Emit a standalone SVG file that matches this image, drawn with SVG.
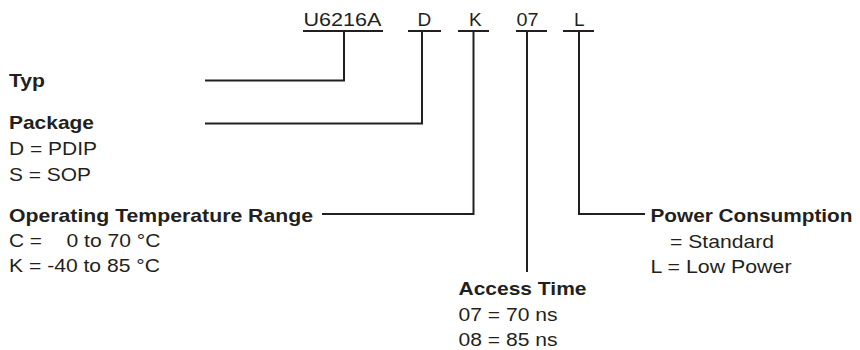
<svg xmlns="http://www.w3.org/2000/svg" width="860" height="350" viewBox="0 0 860 350">
<style>
text{font-family:"Liberation Sans",Arial,Helvetica,sans-serif;font-size:19px;fill:#231f20}
.b{font-weight:bold}
.ln{fill:none;stroke:#231f20;stroke-width:2;stroke-linecap:butt;stroke-linejoin:miter}
</style>
<rect width="860" height="350" fill="#ffffff"/>
<g id="code">
<g id="code-type"><text x="303.5" y="26" textLength="78" lengthAdjust="spacingAndGlyphs">U6216A</text></g>
<g id="code-package"><text x="417.5" y="26">D</text></g>
<g id="code-temp"><text x="469" y="26">K</text></g>
<g id="code-access"><text x="516.5" y="26" textLength="22" lengthAdjust="spacingAndGlyphs">07</text></g>
<g id="code-power"><text x="574" y="26">L</text></g>
</g>
<g id="typ"><text class="b" x="9" y="87" textLength="36" lengthAdjust="spacingAndGlyphs">Typ</text></g>
<g id="package">
<text class="b" x="9" y="129" textLength="85" lengthAdjust="spacingAndGlyphs">Package</text>
<text x="9" y="155" textLength="88" lengthAdjust="spacingAndGlyphs">D = PDIP</text>
<text x="9" y="181" textLength="82" lengthAdjust="spacingAndGlyphs">S = SOP</text>
</g>
<g id="temperature">
<text class="b" x="9" y="221.5" textLength="304" lengthAdjust="spacingAndGlyphs">Operating Temperature Range</text>
<text x="9" y="247" textLength="33" lengthAdjust="spacingAndGlyphs">C =</text>
<text x="66.5" y="247" textLength="94" lengthAdjust="spacingAndGlyphs">0 to 70 °C</text>
<text x="9" y="272" textLength="151" lengthAdjust="spacingAndGlyphs">K = -40 to 85 °C</text>
</g>
<g id="access">
<text class="b" x="458.5" y="295" textLength="128" lengthAdjust="spacingAndGlyphs">Access Time</text>
<text x="458.5" y="320.5" textLength="99" lengthAdjust="spacingAndGlyphs">07 = 70 ns</text>
<text x="458.5" y="346" textLength="99" lengthAdjust="spacingAndGlyphs">08 = 85 ns</text>
</g>
<g id="power">
<text class="b" x="650.5" y="222" textLength="202" lengthAdjust="spacingAndGlyphs">Power Consumption</text>
<text x="670" y="247.5" textLength="104" lengthAdjust="spacingAndGlyphs">= Standard</text>
<text x="650.5" y="272.5" textLength="141" lengthAdjust="spacingAndGlyphs">L = Low Power</text>
</g>
<g id="connectors">
<path class="ln" d="M303 31H383M408 31H441M458 31H489M516 31H547M563 31H594"/>
<path class="ln" d="M344 31V80.5H205"/>
<path class="ln" d="M422 31V123.5H205"/>
<path class="ln" d="M473.5 31V214H322"/>
<path class="ln" d="M527 31V272"/>
<path class="ln" d="M579 31V214H645"/>
</g>
</svg>
